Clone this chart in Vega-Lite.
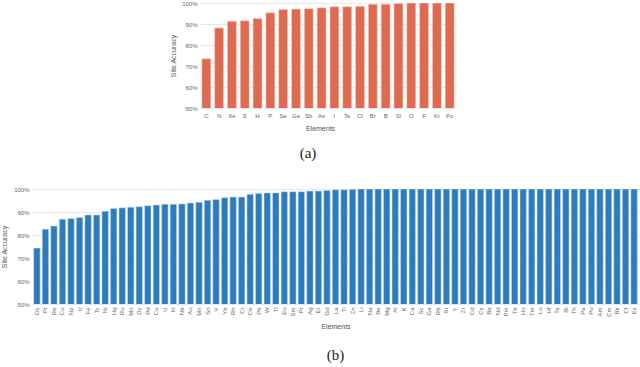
{
  "$schema": "https://vega.github.io/schema/vega-lite/v6.json",
  "padding": {"left": 0, "right": 3, "top": 0, "bottom": 0},
  "background": "white",
  "spacing": 25,
  "datasets": {
    "a": [
      {"element": "C", "accuracy": 73.4},
      {"element": "N", "accuracy": 88.1},
      {"element": "Xe", "accuracy": 91.3},
      {"element": "S", "accuracy": 91.5},
      {"element": "H", "accuracy": 92.6},
      {"element": "P", "accuracy": 95.3},
      {"element": "Se", "accuracy": 96.9},
      {"element": "Ge", "accuracy": 97.1},
      {"element": "Sb", "accuracy": 97.3},
      {"element": "As", "accuracy": 97.7},
      {"element": "I", "accuracy": 98.2},
      {"element": "Te", "accuracy": 98.2},
      {"element": "Cl", "accuracy": 98.4},
      {"element": "Br", "accuracy": 99.4},
      {"element": "B", "accuracy": 99.4},
      {"element": "Si", "accuracy": 99.8},
      {"element": "O", "accuracy": 100},
      {"element": "F", "accuracy": 100},
      {"element": "Kr", "accuracy": 100},
      {"element": "Po", "accuracy": 100}
    ],
    "b": [
      {"element": "Os", "accuracy": 74.3},
      {"element": "Pt", "accuracy": 82.5},
      {"element": "Re", "accuracy": 83.9},
      {"element": "Co", "accuracy": 86.9},
      {"element": "Np", "accuracy": 87.2},
      {"element": "Ir", "accuracy": 87.6},
      {"element": "Fe", "accuracy": 88.7},
      {"element": "Tc", "accuracy": 88.7},
      {"element": "Ni", "accuracy": 90.3},
      {"element": "Hg", "accuracy": 91.5},
      {"element": "Ru", "accuracy": 91.8},
      {"element": "Mo", "accuracy": 92.1},
      {"element": "Dy", "accuracy": 92.3},
      {"element": "Pd", "accuracy": 92.7},
      {"element": "Cu", "accuracy": 93.0},
      {"element": "U", "accuracy": 93.4},
      {"element": "In", "accuracy": 93.4},
      {"element": "Nb", "accuracy": 93.5},
      {"element": "Au", "accuracy": 93.9},
      {"element": "Mn", "accuracy": 94.2},
      {"element": "Sn", "accuracy": 95.1},
      {"element": "V", "accuracy": 95.4},
      {"element": "Yb", "accuracy": 96.2},
      {"element": "Rh", "accuracy": 96.5},
      {"element": "Cr", "accuracy": 96.5},
      {"element": "Ce", "accuracy": 97.7},
      {"element": "Pb", "accuracy": 98.0},
      {"element": "W", "accuracy": 98.3},
      {"element": "Tl", "accuracy": 98.3},
      {"element": "Eu", "accuracy": 98.8},
      {"element": "Sm", "accuracy": 98.8},
      {"element": "Pr", "accuracy": 98.8},
      {"element": "Ag", "accuracy": 99.1},
      {"element": "Er", "accuracy": 99.1},
      {"element": "Gd", "accuracy": 99.4},
      {"element": "La", "accuracy": 99.7},
      {"element": "Ti", "accuracy": 99.7},
      {"element": "Zn", "accuracy": 99.85},
      {"element": "Li", "accuracy": 100},
      {"element": "Na", "accuracy": 100},
      {"element": "Be", "accuracy": 100},
      {"element": "Mg", "accuracy": 100},
      {"element": "Al", "accuracy": 100},
      {"element": "K", "accuracy": 100},
      {"element": "Ca", "accuracy": 100},
      {"element": "Sc", "accuracy": 100},
      {"element": "Ga", "accuracy": 100},
      {"element": "Rb", "accuracy": 100},
      {"element": "Sr", "accuracy": 100},
      {"element": "Y", "accuracy": 100},
      {"element": "Zr", "accuracy": 100},
      {"element": "Cd", "accuracy": 100},
      {"element": "Cs", "accuracy": 100},
      {"element": "Ba", "accuracy": 100},
      {"element": "Nd", "accuracy": 100},
      {"element": "Pm", "accuracy": 100},
      {"element": "Tb", "accuracy": 100},
      {"element": "Ho", "accuracy": 100},
      {"element": "Tm", "accuracy": 100},
      {"element": "Lu", "accuracy": 100},
      {"element": "Hf", "accuracy": 100},
      {"element": "Ta", "accuracy": 100},
      {"element": "Bi", "accuracy": 100},
      {"element": "Th", "accuracy": 100},
      {"element": "Pa", "accuracy": 100},
      {"element": "Pu", "accuracy": 100},
      {"element": "Am", "accuracy": 100},
      {"element": "Cm", "accuracy": 100},
      {"element": "Bk", "accuracy": 100},
      {"element": "Cf", "accuracy": 100},
      {"element": "Es", "accuracy": 100}
    ]
  },
  "config": {
    "view": {"stroke": null},
    "font": "Liberation Sans",
    "axis": {
      "domain": false,
      "ticks": false,
      "labelColor": "#666666",
      "titleColor": "#555555",
      "labelFontSize": 6,
      "titleFontSize": 7,
      "titleFontWeight": "normal",
      "gridColor": "#e3e3e3",
      "gridWidth": 0.8
    },
    "title": {
      "font": "Liberation Serif",
      "fontSize": 15,
      "fontWeight": "normal",
      "color": "#222222",
      "orient": "bottom",
      "anchor": "middle"
    }
  },
  "vconcat": [
    {
      "spacing": 0,
      "hconcat": [
        {
          "width": 137,
          "height": 105,
          "data": {"values": []},
          "mark": "point",
          "encoding": {}
        },
        {
          "title": {"text": "(a)", "offset": 15, "dx": -20},
          "data": {"name": "a"},
          "width": 258,
          "height": 105,
          "mark": {"type": "bar", "color": "#de6a52", "stroke": "#f6d2c9", "strokeWidth": 0.6, "clip": true},
          "encoding": {
            "x": {
              "field": "element",
              "type": "nominal",
              "sort": null,
              "title": "Elements",
              "scale": {"paddingInner": 0.3, "paddingOuter": 0.22},
              "axis": {"labelAngle": 0, "labelPadding": 4, "titlePadding": 6, "titleX": 121, "grid": false}
            },
            "y": {
              "field": "accuracy",
              "type": "quantitative",
              "title": "Site Accuracy",
              "scale": {"domain": [50, 100], "zero": false, "nice": false},
              "axis": {"values": [50, 60, 70, 80, 90, 100], "labelExpr": "datum.value + '%'", "labelPadding": 2, "titlePadding": 5}
            }
          }
        }
      ]
    },
    {
      "title": {"text": "(b)", "offset": 19},
      "data": {"name": "b"},
      "width": 607,
      "height": 115,
      "mark": {"type": "bar", "color": "#2e7cbb", "stroke": "#c9dcee", "strokeWidth": 0.5, "clip": true},
      "encoding": {
        "x": {
          "field": "element",
          "type": "nominal",
          "sort": null,
          "title": "Elements",
          "scale": {"paddingInner": 0.25, "paddingOuter": 0.2},
          "axis": {"labelAngle": -90, "labelPadding": 3, "titlePadding": 6, "grid": false}
        },
        "y": {
          "field": "accuracy",
          "type": "quantitative",
          "title": "Site Accuracy",
          "scale": {"domain": [50, 100], "zero": false, "nice": false},
          "axis": {"values": [50, 60, 70, 80, 90, 100], "labelExpr": "datum.value + '%'", "labelPadding": 3, "titlePadding": 6}
        }
      }
    }
  ]
}
